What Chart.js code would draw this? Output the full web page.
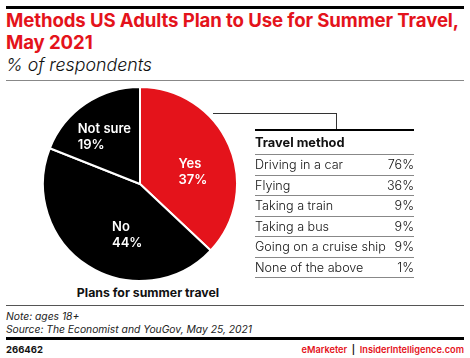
<!DOCTYPE html>
<html><head><meta charset="utf-8">
<script src="https://cdn.jsdelivr.net/npm/chart.js@4"></script>
<style>
html,body{margin:0;padding:0;background:#fff;}
body{width:470px;height:358px;position:relative;overflow:hidden;font-family:Inter,"Liberation Sans",Arial,sans-serif;}
.abs{position:absolute;}
#title{left:6px;top:9px;width:465px;font-size:18.6px;font-weight:700;color:#e4131b;line-height:22px;letter-spacing:-0.1px;}
#sub{left:6px;top:54px;font-size:17.8px;font-style:italic;color:#111;font-weight:300;}
.line{position:absolute;}
#tbl{left:255px;top:131px;width:159px;font-size:12.6px;color:#111;font-weight:300;}
.row{height:20.5px;line-height:20.5px;border-bottom:1px solid #888;display:flex;justify-content:space-between;box-sizing:border-box;}
.hdr{font-weight:700;height:24px;line-height:24px;font-size:12.8px;}
#cap{left:48px;top:285px;width:200px;text-align:center;font-weight:700;font-size:12.3px;color:#111;}
#note{left:6px;top:310px;font-size:10.3px;font-style:italic;color:#222;line-height:13px;}
#id{left:6px;top:344px;font-size:9.5px;font-weight:700;color:#111;}
#brand{right:6px;top:344px;font-size:9.2px;font-weight:600;color:#111;}
</style></head><body>
<div class="line" style="left:6px;top:6px;width:458px;height:3px;background:#000"></div>
<div id="title" class="abs">Methods US Adults Plan to Use for Summer Travel,<br>May 2021</div>
<div id="sub" class="abs">% of respondents</div>
<div class="line" style="left:6px;top:80px;width:458px;height:1px;background:#888"></div>
<div class="abs" style="left:42px;top:86px;width:196px;height:196px;"><canvas id="c" width="196" height="196"></canvas></div>
<div class="line" style="left:213px;top:113px;width:124px;height:1px;background:#333"></div>
<div class="line" style="left:336px;top:113px;width:1px;height:17px;background:#333"></div>
<div class="line" style="left:255px;top:129px;width:159px;height:2px;background:#000"></div>
<div id="tbl" class="abs"></div>
<div id="cap" class="abs">Plans for summer travel</div>
<div class="line" style="left:6px;top:305px;width:458px;height:1px;background:#555"></div>
<div id="note" class="abs">Note: ages 18+<br>Source: The Economist and YouGov, May 25, 2021</div>
<div class="line" style="left:6px;top:337px;width:458px;height:3px;background:#000"></div>
<div id="id" class="abs">266462</div>
<div id="brand" class="abs"><span style="color:#e4131b">eMarketer</span> &nbsp;|&nbsp; <span style="color:#e4131b">InsiderIntelligence.com</span></div>
<script>
const pieLabels = ["Yes", "No", "Not sure"];
const pieValues = [37, 44, 19];
const pieColors = ["#e4131b", "#000000", "#000000"];
const tableHeader = "Travel method";
const methods = ["Driving in a car", "Flying", "Taking a train", "Taking a bus", "Going on a cruise ship", "None of the above"];
const methodValues = [76, 36, 9, 9, 9, 1];

const tbl = document.getElementById('tbl');
let h = '<div class="row hdr"><span>' + tableHeader + '</span></div>';
methods.forEach((m, i) => { h += '<div class="row"><span>' + m + '</span><span>' + methodValues[i] + '%</span></div>'; });
tbl.innerHTML = h;

const labelShift = [[-6, 7], [-2, 10], [-35, -7]];
const inLabels = {
  id: 'inLabels',
  afterDatasetsDraw(chart) {
    const ctx = chart.ctx;
    const meta = chart.getDatasetMeta(0);
    ctx.save();
    ctx.fillStyle = '#fff';
    ctx.font = '600 13px Inter, "Liberation Sans", Arial, sans-serif';
    ctx.textAlign = 'left';
    ctx.textBaseline = 'middle';
    meta.data.forEach((arc, i) => {
      const p = arc.tooltipPosition();
      const x = p.x + labelShift[i][0], y = p.y + labelShift[i][1];
      ctx.fillText(pieLabels[i], x, y - 8);
      ctx.fillText(pieValues[i] + '%', x, y + 8);
    });
    ctx.restore();
  }
};

new Chart(document.getElementById('c'), {
  type: 'pie',
  data: { labels: pieLabels, datasets: [{ data: pieValues, backgroundColor: pieColors, borderColor: '#fff', borderWidth: 2 }] },
  options: {
    responsive: false, animation: false, layout: { padding: 0 },
    plugins: { legend: { display: false }, tooltip: { enabled: false } }
  },
  plugins: [inLabels]
});
</script>
</body></html>
